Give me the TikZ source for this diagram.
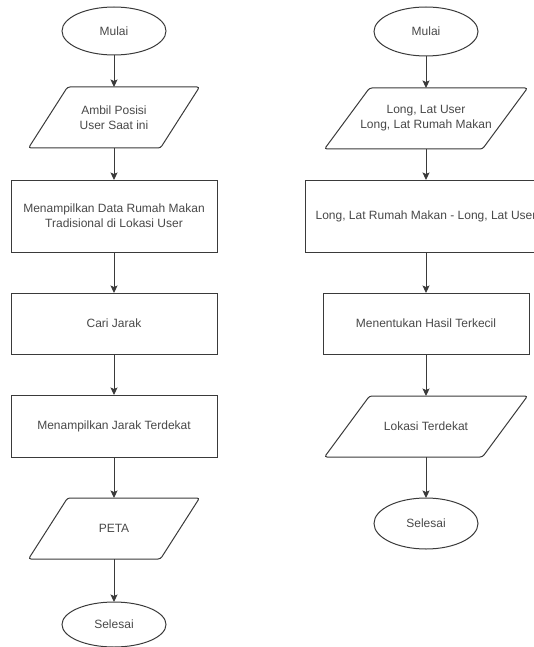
\documentclass[tikz,border=0pt]{standalone}
\usepackage{fontspec}
\setmainfont{Liberation Sans}
\usetikzlibrary{shapes.geometric, positioning, arrows.meta}
\definecolor{linegray}{HTML}{3A3A3A}
\definecolor{textgray}{HTML}{484848}

\tikzset{
  base/.style={draw=linegray, line width=1pt, outer sep=0pt, text=textgray,
    font=\fontsize{12}{15}\selectfont, align=center},
  terminal/.style={base, ellipse, minimum width=104pt, minimum height=48pt},
  inout/.style={base, draw=none, rectangle, minimum height=61pt},
  outline/.style={draw=linegray, line width=1pt, rounded corners=2.5pt},
  process/.style={base, rectangle, minimum width=206pt},
  flow/.style={draw=linegray, line width=1pt, -{Stealth[length=7.5pt, width=7pt, inset=1.5pt]}}
}

\begin{document}
\begin{tikzpicture}
\useasboundingbox (0,0) rectangle (534pt,-647pt);

% left chart
\node[terminal] (mulaiA) at (114pt,-31pt) {Mulai};
\node[inout, minimum width=171pt, below=32pt of mulaiA] (posisiA) {Ambil Posisi\\User Saat ini};
\node[process, minimum height=72pt, below=32pt of posisiA] (dataA)
  {Menampilkan Data Rumah Makan\\Tradisional di Lokasi User};
\node[process, minimum height=61pt, below=41pt of dataA] (cariA) {Cari Jarak};
\node[process, minimum height=62pt, below=41pt of cariA] (jarakA) {Menampilkan Jarak Terdekat};
\node[inout, minimum width=171pt, below=41pt of jarakA] (petaA) {PETA};
\node[terminal, minimum height=45pt, below=43pt of petaA] (selesaiA) {Selesai};

% right chart
\node[terminal, minimum height=49pt] (mulaiB) at (426pt,-31.5pt) {Mulai};
\node[inout, minimum width=203pt, below=32pt of mulaiB] (koordB) {Long, Lat User\\Long, Lat Rumah Makan};
\node[process, minimum width=242pt, minimum height=72pt, below=31pt of koordB] (selisihB)
  {Long, Lat Rumah Makan - Long, Lat User};
\node[process, minimum height=61pt, below=41pt of selisihB] (hasilB) {Menentukan Hasil Terkecil};
\node[inout, minimum width=203pt, below=42pt of hasilB] (lokasiB) {Lokasi Terdekat};
\node[terminal, minimum height=51pt, below=41pt of lokasiB] (selesaiB) {Selesai};

% parallelogram outlines
\foreach \n/\s in {posisiA/39pt, petaA/39pt, koordB/45pt, lokasiB/45pt}
  \draw[outline] ([xshift=\s]\n.north west) -- (\n.north east)
    -- ([xshift=-\s]\n.south east) -- (\n.south west) -- cycle;

\foreach \a/\b in {mulaiA/posisiA, posisiA/dataA, dataA/cariA, cariA/jarakA,
  jarakA/petaA, petaA/selesaiA, mulaiB/koordB, koordB/selisihB, selisihB/hasilB,
  hasilB/lokasiB, lokasiB/selesaiB}
  \draw[flow] (\a.south) -- (\b.north);
\end{tikzpicture}
\end{document}
